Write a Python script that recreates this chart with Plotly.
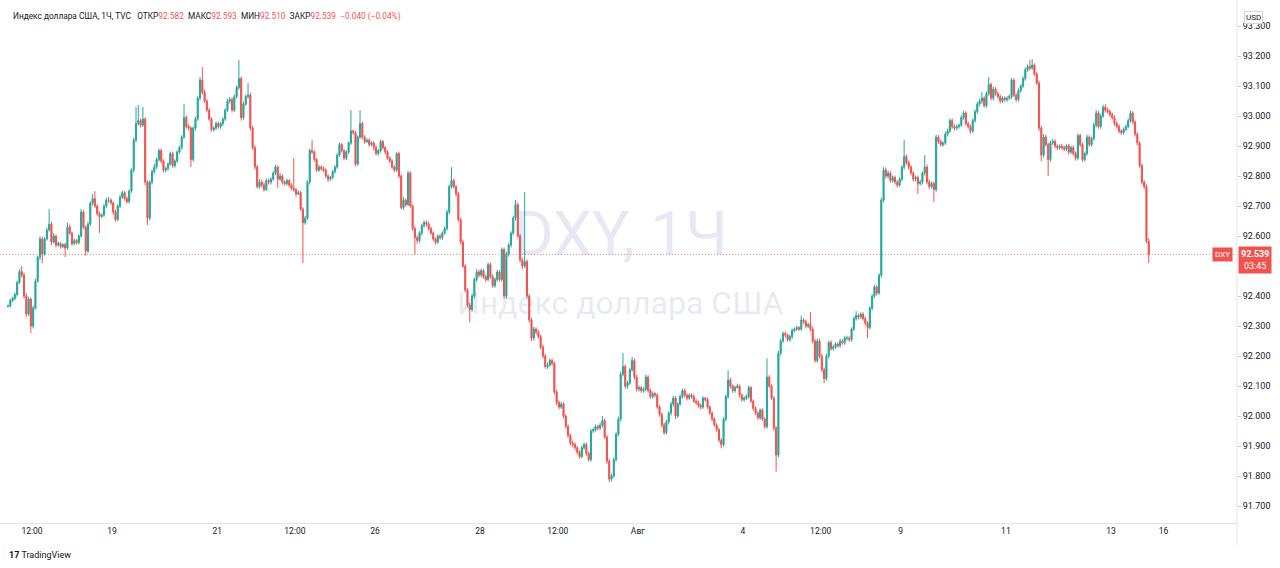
import plotly.graph_objects as go
import pandas as pd

# ---------------- data: DXY hourly candles (TVC), 15 Jul 2021 01:00 .. 13 Aug 2021 17:00 ----------------
opens = [
    92.366, 92.368, 92.385, 92.392, 92.405, 92.445, 92.482, 92.470, 92.400, 92.340, 92.390, 92.300, 92.360, 92.450, 92.530, 92.590, 92.540, 92.590, 92.620, 92.640, 92.580, 92.600, 92.570,
    92.575, 92.565, 92.572, 92.560, 92.630, 92.610, 92.575, 92.585, 92.578, 92.600, 92.680, 92.630, 92.550, 92.640, 92.710, 92.725, 92.700, 92.675, 92.665, 92.670, 92.700, 92.720, 92.720,
    92.710, 92.680, 92.655, 92.700, 92.730, 92.745, 92.725, 92.715, 92.750, 92.820, 92.920, 92.975, 92.985, 92.970, 92.990, 92.780, 92.660, 92.780, 92.815, 92.830, 92.855, 92.885, 92.850,
    92.820, 92.825, 92.840, 92.875, 92.835, 92.850, 92.880, 92.895, 92.930, 92.995, 92.965, 92.960, 92.855, 92.960, 92.990, 93.060, 93.120, 93.080, 93.050, 93.020, 92.990, 92.955, 92.960,
    92.975, 92.965, 92.975, 92.990, 93.020, 93.050, 93.055, 93.020, 93.065, 93.095, 93.125, 92.995, 93.040, 93.065, 93.070, 92.960, 92.895, 92.830, 92.765, 92.780, 92.770, 92.755, 92.785,
    92.780, 92.790, 92.810, 92.830, 92.790, 92.800, 92.780, 92.775, 92.785, 92.770, 92.760, 92.755, 92.740, 92.745, 92.690, 92.645, 92.660, 92.780, 92.885, 92.880, 92.855, 92.820, 92.830,
    92.825, 92.820, 92.800, 92.790, 92.795, 92.815, 92.830, 92.870, 92.905, 92.885, 92.860, 92.880, 92.910, 92.950, 92.945, 92.840, 92.930, 92.975, 92.930, 92.915, 92.920, 92.905, 92.910,
    92.895, 92.875, 92.885, 92.915, 92.895, 92.880, 92.860, 92.850, 92.830, 92.820, 92.875, 92.800, 92.695, 92.720, 92.705, 92.810, 92.700, 92.625, 92.595, 92.585, 92.610, 92.635, 92.645,
    92.640, 92.625, 92.610, 92.590, 92.580, 92.600, 92.595, 92.610, 92.625, 92.680, 92.765, 92.785, 92.765, 92.740, 92.655, 92.580, 92.500, 92.420, 92.370, 92.355, 92.400, 92.455, 92.480,
    92.470, 92.485, 92.465, 92.455, 92.505, 92.465, 92.435, 92.455, 92.480, 92.455, 92.555, 92.400, 92.540, 92.570, 92.610, 92.660, 92.705, 92.600, 92.520, 92.500, 92.515, 92.400, 92.320,
    92.260, 92.290, 92.280, 92.265, 92.230, 92.200, 92.165, 92.170, 92.185, 92.175, 92.080, 92.045, 92.030, 92.040, 92.000, 91.965, 91.935, 91.910, 91.905, 91.895, 91.880, 91.865, 91.895,
    91.905, 91.875, 91.855, 91.950, 91.955, 91.965, 91.960, 91.970, 91.985, 91.930, 91.850, 91.790, 91.800, 91.855, 91.940, 91.990, 92.140, 92.165, 92.100, 92.110, 92.155, 92.185, 92.130,
    92.090, 92.095, 92.085, 92.090, 92.130, 92.085, 92.065, 92.075, 92.070, 92.030, 92.005, 91.970, 91.945, 91.980, 92.010, 92.040, 92.060, 92.000, 92.040, 92.065, 92.085, 92.070, 92.060,
    92.070, 92.065, 92.050, 92.045, 92.035, 92.030, 92.060, 92.055, 92.030, 92.010, 91.990, 91.970, 91.955, 91.920, 91.905, 91.990, 92.065, 92.120, 92.100, 92.085, 92.095, 92.100, 92.070,
    92.055, 92.060, 92.065, 92.095, 92.050, 92.025, 92.010, 91.995, 92.020, 91.990, 91.965, 92.130, 92.100, 92.060, 91.960, 91.870, 92.210, 92.250, 92.275, 92.270, 92.255, 92.265, 92.285,
    92.290, 92.295, 92.290, 92.320, 92.315, 92.300, 92.305, 92.290, 92.250, 92.185, 92.250, 92.200, 92.155, 92.125, 92.200, 92.245, 92.225, 92.230, 92.240, 92.235, 92.250, 92.245, 92.260,
    92.260, 92.255, 92.290, 92.325, 92.335, 92.330, 92.340, 92.325, 92.310, 92.295, 92.360, 92.400, 92.430, 92.410, 92.470, 92.720, 92.820, 92.800, 92.810, 92.785, 92.795, 92.780, 92.770,
    92.790, 92.830, 92.865, 92.845, 92.830, 92.810, 92.790, 92.795, 92.775, 92.780, 92.810, 92.830, 92.780, 92.765, 92.775, 92.755, 92.930, 92.915, 92.905, 92.910, 92.940, 92.950, 92.985,
    92.965, 92.960, 92.965, 92.970, 92.995, 93.010, 92.975, 92.965, 92.950, 92.985, 93.015, 93.040, 93.050, 93.060, 93.035, 93.075, 93.105, 93.060, 93.090, 93.075, 93.065, 93.050, 93.060,
    93.055, 93.060, 93.065, 93.120, 93.070, 93.055, 93.085, 93.100, 93.125, 93.155, 93.165, 93.160, 93.170, 93.140, 93.110, 92.960, 92.870, 92.930, 92.905, 92.855, 92.910, 92.915, 92.900,
    92.895, 92.900, 92.895, 92.890, 92.900, 92.880, 92.895, 92.875, 92.860, 92.935, 92.905, 92.855, 92.875, 92.930, 92.905, 92.925, 92.970, 93.010, 92.965, 93.000, 93.030, 93.020, 93.015,
    93.005, 92.995, 92.975, 92.965, 92.950, 92.945, 92.955, 92.965, 92.985, 93.010, 92.980, 92.940, 92.910, 92.835, 92.780, 92.765, 92.582,
]
highs = [
    92.372, 92.392, 92.398, 92.412, 92.452, 92.490, 92.500, 92.478, 92.410, 92.398, 92.395, 92.368, 92.458, 92.535, 92.600, 92.598, 92.596, 92.628, 92.690, 92.648, 92.610, 92.605, 92.582,
    92.580, 92.576, 92.578, 92.645, 92.638, 92.615, 92.592, 92.590, 92.606, 92.690, 92.686, 92.636, 92.648, 92.716, 92.740, 92.750, 92.706, 92.682, 92.676, 92.706, 92.728, 92.730, 92.726,
    92.716, 92.688, 92.706, 92.738, 92.752, 92.750, 92.732, 92.756, 92.826, 92.928, 93.030, 93.037, 92.992, 93.030, 92.996, 92.786, 92.786, 92.822, 92.840, 92.862, 92.892, 92.892, 92.856,
    92.832, 92.846, 92.882, 92.880, 92.856, 92.886, 92.902, 92.936, 93.040, 93.002, 92.972, 92.966, 92.966, 92.998, 93.066, 93.130, 93.163, 93.088, 93.056, 93.026, 92.996, 92.966, 92.982,
    92.982, 92.980, 92.996, 93.026, 93.058, 93.064, 93.062, 93.072, 93.102, 93.187, 93.132, 93.048, 93.072, 93.110, 93.078, 92.968, 92.902, 92.838, 92.790, 92.788, 92.778, 92.792, 92.792,
    92.796, 92.816, 92.838, 92.836, 92.810, 92.806, 92.786, 92.792, 92.790, 92.776, 92.860, 92.760, 92.752, 92.750, 92.696, 92.668, 92.786, 92.892, 92.920, 92.886, 92.860, 92.838, 92.836,
    92.832, 92.826, 92.806, 92.800, 92.820, 92.836, 92.876, 92.912, 92.910, 92.890, 92.886, 92.916, 93.020, 92.956, 92.950, 92.936, 93.020, 92.982, 92.936, 92.926, 92.926, 92.916, 92.916,
    92.902, 92.890, 92.922, 92.920, 92.900, 92.886, 92.866, 92.856, 92.836, 92.880, 92.882, 92.806, 92.730, 92.726, 92.818, 92.816, 92.706, 92.632, 92.602, 92.616, 92.642, 92.652, 92.652,
    92.648, 92.632, 92.616, 92.596, 92.606, 92.606, 92.616, 92.632, 92.688, 92.772, 92.830, 92.792, 92.770, 92.748, 92.662, 92.588, 92.506, 92.426, 92.378, 92.408, 92.462, 92.490, 92.488,
    92.492, 92.490, 92.472, 92.512, 92.512, 92.472, 92.462, 92.488, 92.486, 92.562, 92.562, 92.548, 92.578, 92.616, 92.668, 92.720, 92.712, 92.608, 92.528, 92.747, 92.522, 92.408, 92.328,
    92.298, 92.296, 92.288, 92.272, 92.238, 92.208, 92.178, 92.192, 92.192, 92.182, 92.088, 92.052, 92.048, 92.046, 92.006, 91.972, 91.942, 91.918, 91.912, 91.900, 91.886, 91.902, 91.912,
    91.912, 91.882, 91.958, 91.962, 91.972, 91.972, 91.978, 92.000, 91.992, 91.936, 91.858, 91.808, 91.862, 91.946, 91.998, 92.148, 92.210, 92.172, 92.118, 92.162, 92.197, 92.192, 92.138,
    92.102, 92.100, 92.096, 92.138, 92.136, 92.092, 92.082, 92.080, 92.076, 92.036, 92.012, 91.978, 91.988, 92.016, 92.048, 92.068, 92.066, 92.046, 92.072, 92.092, 92.092, 92.076, 92.076,
    92.076, 92.072, 92.058, 92.052, 92.042, 92.066, 92.064, 92.062, 92.036, 92.016, 91.996, 91.976, 91.960, 91.926, 91.996, 92.072, 92.153, 92.128, 92.106, 92.102, 92.108, 92.106, 92.076,
    92.066, 92.072, 92.102, 92.100, 92.056, 92.032, 92.016, 92.026, 92.026, 91.996, 92.193, 92.136, 92.106, 92.066, 91.966, 92.218, 92.258, 92.282, 92.282, 92.276, 92.272, 92.292, 92.296,
    92.302, 92.300, 92.335, 92.326, 92.322, 92.312, 92.347, 92.298, 92.258, 92.258, 92.258, 92.208, 92.162, 92.208, 92.252, 92.252, 92.238, 92.246, 92.246, 92.258, 92.256, 92.268, 92.268,
    92.266, 92.296, 92.332, 92.350, 92.342, 92.346, 92.346, 92.332, 92.316, 92.366, 92.406, 92.438, 92.436, 92.476, 92.728, 92.830, 92.828, 92.818, 92.816, 92.802, 92.802, 92.786, 92.796,
    92.836, 92.920, 92.872, 92.852, 92.836, 92.816, 92.802, 92.802, 92.788, 92.816, 92.870, 92.838, 92.788, 92.782, 92.782, 92.938, 92.936, 92.922, 92.916, 92.948, 92.958, 92.992, 92.992,
    92.972, 92.972, 92.976, 93.002, 93.018, 93.016, 92.982, 92.972, 92.992, 93.022, 93.048, 93.058, 93.080, 93.066, 93.082, 93.130, 93.112, 93.098, 93.096, 93.082, 93.072, 93.066, 93.066,
    93.066, 93.072, 93.128, 93.126, 93.076, 93.092, 93.106, 93.132, 93.162, 93.172, 93.187, 93.190, 93.176, 93.146, 93.118, 92.968, 92.940, 92.938, 92.912, 92.918, 92.924, 92.922, 92.906,
    92.906, 92.908, 92.902, 92.906, 92.908, 92.902, 92.902, 92.882, 92.942, 92.942, 92.912, 92.882, 92.938, 92.936, 92.932, 92.978, 93.020, 93.018, 93.008, 93.038, 93.040, 93.028, 93.022,
    93.012, 93.002, 92.982, 92.972, 92.956, 92.962, 92.972, 92.992, 93.018, 93.016, 92.986, 92.946, 92.916, 92.842, 92.786, 92.772, 92.593,
]
lows = [
    92.362, 92.362, 92.380, 92.386, 92.398, 92.440, 92.462, 92.392, 92.330, 92.334, 92.277, 92.292, 92.355, 92.445, 92.520, 92.510, 92.535, 92.585, 92.615, 92.570, 92.575, 92.562, 92.565,
    92.558, 92.560, 92.530, 92.555, 92.604, 92.568, 92.570, 92.572, 92.572, 92.594, 92.624, 92.535, 92.544, 92.634, 92.702, 92.694, 92.668, 92.610, 92.660, 92.664, 92.694, 92.712, 92.704,
    92.672, 92.648, 92.650, 92.694, 92.724, 92.718, 92.708, 92.708, 92.744, 92.812, 92.912, 92.968, 92.962, 92.964, 92.770, 92.637, 92.652, 92.772, 92.808, 92.824, 92.848, 92.842, 92.812,
    92.812, 92.818, 92.834, 92.828, 92.828, 92.844, 92.874, 92.888, 92.924, 92.958, 92.952, 92.830, 92.848, 92.952, 92.984, 93.052, 93.072, 93.044, 93.012, 92.984, 92.948, 92.948, 92.954,
    92.958, 92.958, 92.968, 92.984, 93.014, 93.042, 93.012, 93.014, 93.058, 93.088, 92.985, 92.988, 93.034, 93.058, 92.952, 92.888, 92.822, 92.758, 92.758, 92.762, 92.748, 92.750, 92.772,
    92.772, 92.784, 92.804, 92.760, 92.784, 92.772, 92.768, 92.768, 92.762, 92.752, 92.748, 92.732, 92.736, 92.684, 92.510, 92.638, 92.654, 92.772, 92.874, 92.848, 92.814, 92.814, 92.818,
    92.814, 92.794, 92.780, 92.784, 92.790, 92.808, 92.824, 92.864, 92.878, 92.852, 92.854, 92.874, 92.904, 92.938, 92.832, 92.834, 92.924, 92.922, 92.908, 92.910, 92.898, 92.900, 92.886,
    92.868, 92.868, 92.878, 92.888, 92.872, 92.854, 92.844, 92.824, 92.812, 92.814, 92.792, 92.688, 92.688, 92.698, 92.700, 92.694, 92.618, 92.540, 92.575, 92.578, 92.602, 92.628, 92.632,
    92.618, 92.604, 92.584, 92.572, 92.574, 92.588, 92.588, 92.604, 92.618, 92.672, 92.758, 92.758, 92.732, 92.648, 92.572, 92.494, 92.412, 92.362, 92.313, 92.348, 92.392, 92.448, 92.462,
    92.462, 92.458, 92.448, 92.450, 92.458, 92.428, 92.428, 92.448, 92.448, 92.448, 92.392, 92.392, 92.532, 92.562, 92.602, 92.652, 92.594, 92.512, 92.490, 92.494, 92.392, 92.312, 92.250,
    92.252, 92.272, 92.258, 92.222, 92.192, 92.158, 92.158, 92.164, 92.168, 92.072, 92.036, 92.022, 92.024, 91.992, 91.958, 91.928, 91.902, 91.896, 91.886, 91.872, 91.858, 91.860, 91.888,
    91.868, 91.848, 91.848, 91.944, 91.948, 91.952, 91.954, 91.962, 91.924, 91.842, 91.780, 91.782, 91.794, 91.848, 91.932, 91.982, 92.132, 92.092, 92.092, 92.104, 92.148, 92.122, 92.082,
    92.082, 92.078, 92.078, 92.082, 92.078, 92.058, 92.058, 92.062, 92.024, 91.998, 91.962, 91.938, 91.938, 91.972, 92.002, 92.032, 91.990, 91.994, 92.034, 92.058, 92.062, 92.052, 92.054,
    92.058, 92.044, 92.038, 92.028, 92.022, 92.024, 92.048, 92.024, 92.004, 91.982, 91.964, 91.948, 91.912, 91.893, 91.898, 91.982, 92.058, 92.092, 92.078, 92.078, 92.092, 92.062, 92.048,
    92.048, 92.054, 92.058, 92.044, 92.018, 92.004, 91.988, 91.988, 91.984, 91.958, 91.958, 92.094, 92.054, 91.952, 91.815, 91.862, 92.202, 92.244, 92.262, 92.248, 92.248, 92.258, 92.280,
    92.284, 92.284, 92.284, 92.308, 92.292, 92.294, 92.282, 92.242, 92.178, 92.178, 92.192, 92.148, 92.110, 92.118, 92.192, 92.218, 92.218, 92.224, 92.228, 92.228, 92.238, 92.238, 92.252,
    92.248, 92.248, 92.284, 92.318, 92.322, 92.324, 92.318, 92.302, 92.260, 92.288, 92.352, 92.394, 92.402, 92.404, 92.462, 92.712, 92.792, 92.792, 92.778, 92.778, 92.772, 92.762, 92.764,
    92.782, 92.822, 92.838, 92.822, 92.802, 92.782, 92.782, 92.740, 92.768, 92.772, 92.802, 92.772, 92.756, 92.758, 92.713, 92.748, 92.908, 92.898, 92.898, 92.904, 92.932, 92.944, 92.958,
    92.952, 92.952, 92.958, 92.964, 92.988, 92.968, 92.958, 92.942, 92.944, 92.978, 93.008, 93.032, 93.042, 93.028, 93.028, 93.068, 93.052, 93.052, 93.068, 93.058, 93.042, 93.044, 93.048,
    93.048, 93.054, 93.058, 93.064, 93.048, 93.048, 93.078, 93.094, 93.118, 93.148, 93.152, 93.154, 93.134, 93.104, 92.950, 92.850, 92.862, 92.898, 92.800, 92.848, 92.904, 92.892, 92.886,
    92.888, 92.888, 92.882, 92.884, 92.872, 92.874, 92.868, 92.852, 92.852, 92.898, 92.848, 92.848, 92.868, 92.898, 92.898, 92.918, 92.962, 92.958, 92.958, 92.994, 93.012, 93.008, 92.998,
    92.988, 92.968, 92.958, 92.942, 92.938, 92.938, 92.950, 92.960, 92.978, 92.972, 92.932, 92.902, 92.828, 92.772, 92.756, 92.576, 92.510,
]
closes = [
    92.368, 92.385, 92.392, 92.405, 92.445, 92.482, 92.470, 92.400, 92.340, 92.390, 92.300, 92.360, 92.450, 92.530, 92.590, 92.540, 92.590, 92.620, 92.640, 92.580, 92.600, 92.570, 92.575,
    92.565, 92.572, 92.560, 92.630, 92.610, 92.575, 92.585, 92.578, 92.600, 92.680, 92.630, 92.550, 92.640, 92.710, 92.725, 92.700, 92.675, 92.665, 92.670, 92.700, 92.720, 92.720, 92.710,
    92.680, 92.655, 92.700, 92.730, 92.745, 92.725, 92.715, 92.750, 92.820, 92.920, 92.975, 92.985, 92.970, 92.990, 92.780, 92.660, 92.780, 92.815, 92.830, 92.855, 92.885, 92.850, 92.820,
    92.825, 92.840, 92.875, 92.835, 92.850, 92.880, 92.895, 92.930, 92.995, 92.965, 92.960, 92.855, 92.960, 92.990, 93.060, 93.120, 93.080, 93.050, 93.020, 92.990, 92.955, 92.960, 92.975,
    92.965, 92.975, 92.990, 93.020, 93.050, 93.055, 93.020, 93.065, 93.095, 93.125, 92.995, 93.040, 93.065, 93.070, 92.960, 92.895, 92.830, 92.765, 92.780, 92.770, 92.755, 92.785, 92.780,
    92.790, 92.810, 92.830, 92.790, 92.800, 92.780, 92.775, 92.785, 92.770, 92.760, 92.755, 92.740, 92.745, 92.690, 92.645, 92.660, 92.780, 92.885, 92.880, 92.855, 92.820, 92.830, 92.825,
    92.820, 92.800, 92.790, 92.795, 92.815, 92.830, 92.870, 92.905, 92.885, 92.860, 92.880, 92.910, 92.950, 92.945, 92.840, 92.930, 92.975, 92.930, 92.915, 92.920, 92.905, 92.910, 92.895,
    92.875, 92.885, 92.915, 92.895, 92.880, 92.860, 92.850, 92.830, 92.820, 92.875, 92.800, 92.695, 92.720, 92.705, 92.810, 92.700, 92.625, 92.595, 92.585, 92.610, 92.635, 92.645, 92.640,
    92.625, 92.610, 92.590, 92.580, 92.600, 92.595, 92.610, 92.625, 92.680, 92.765, 92.785, 92.765, 92.740, 92.655, 92.580, 92.500, 92.420, 92.370, 92.355, 92.400, 92.455, 92.480, 92.470,
    92.485, 92.465, 92.455, 92.505, 92.465, 92.435, 92.455, 92.480, 92.455, 92.555, 92.400, 92.540, 92.570, 92.610, 92.660, 92.705, 92.600, 92.520, 92.500, 92.515, 92.400, 92.320, 92.260,
    92.290, 92.280, 92.265, 92.230, 92.200, 92.165, 92.170, 92.185, 92.175, 92.080, 92.045, 92.030, 92.040, 92.000, 91.965, 91.935, 91.910, 91.905, 91.895, 91.880, 91.865, 91.895, 91.905,
    91.875, 91.855, 91.950, 91.955, 91.965, 91.960, 91.970, 91.985, 91.930, 91.850, 91.790, 91.800, 91.855, 91.940, 91.990, 92.140, 92.165, 92.100, 92.110, 92.155, 92.185, 92.130, 92.090,
    92.095, 92.085, 92.090, 92.130, 92.085, 92.065, 92.075, 92.070, 92.030, 92.005, 91.970, 91.945, 91.980, 92.010, 92.040, 92.060, 92.000, 92.040, 92.065, 92.085, 92.070, 92.060, 92.070,
    92.065, 92.050, 92.045, 92.035, 92.030, 92.060, 92.055, 92.030, 92.010, 91.990, 91.970, 91.955, 91.920, 91.905, 91.990, 92.065, 92.120, 92.100, 92.085, 92.095, 92.100, 92.070, 92.055,
    92.060, 92.065, 92.095, 92.050, 92.025, 92.010, 91.995, 92.020, 91.990, 91.965, 92.130, 92.100, 92.060, 91.960, 91.870, 92.210, 92.250, 92.275, 92.270, 92.255, 92.265, 92.285, 92.290,
    92.295, 92.290, 92.320, 92.315, 92.300, 92.305, 92.290, 92.250, 92.185, 92.250, 92.200, 92.155, 92.125, 92.200, 92.245, 92.225, 92.230, 92.240, 92.235, 92.250, 92.245, 92.260, 92.260,
    92.255, 92.290, 92.325, 92.335, 92.330, 92.340, 92.325, 92.310, 92.295, 92.360, 92.400, 92.430, 92.410, 92.470, 92.720, 92.820, 92.800, 92.810, 92.785, 92.795, 92.780, 92.770, 92.790,
    92.830, 92.865, 92.845, 92.830, 92.810, 92.790, 92.795, 92.775, 92.780, 92.810, 92.830, 92.780, 92.765, 92.775, 92.755, 92.930, 92.915, 92.905, 92.910, 92.940, 92.950, 92.985, 92.965,
    92.960, 92.965, 92.970, 92.995, 93.010, 92.975, 92.965, 92.950, 92.985, 93.015, 93.040, 93.050, 93.060, 93.035, 93.075, 93.105, 93.060, 93.090, 93.075, 93.065, 93.050, 93.060, 93.055,
    93.060, 93.065, 93.120, 93.070, 93.055, 93.085, 93.100, 93.125, 93.155, 93.165, 93.160, 93.170, 93.140, 93.110, 92.960, 92.870, 92.930, 92.905, 92.855, 92.910, 92.915, 92.900, 92.895,
    92.900, 92.895, 92.890, 92.900, 92.880, 92.895, 92.875, 92.860, 92.935, 92.905, 92.855, 92.875, 92.930, 92.905, 92.925, 92.970, 93.010, 92.965, 93.000, 93.030, 93.020, 93.015, 93.005,
    92.995, 92.975, 92.965, 92.950, 92.945, 92.955, 92.965, 92.985, 93.010, 92.980, 92.940, 92.910, 92.835, 92.780, 92.765, 92.582, 92.539,
]

# time-axis labels (TradingView style) and the bar time they belong to
tick_times = ["2021-07-15 12:00", "2021-07-19 01:00", "2021-07-21 01:00", "2021-07-22 12:00",
              "2021-07-26 01:00", "2021-07-28 01:00", "2021-07-29 12:00", "2021-08-02 01:00",
              "2021-08-04 01:00", "2021-08-05 12:00", "2021-08-09 01:00", "2021-08-11 01:00",
              "2021-08-13 01:00", "2021-08-16 01:00"]
tick_labels = ["12:00", "19", "21", "12:00", "26", "28", "12:00", "Авг", "4", "12:00", "9", "11", "13", "16"]
# 92.500 is hidden behind the last-price badge in the reference
price_ticks = [91.7, 91.8, 91.9, 92.0, 92.1, 92.2, 92.3, 92.4, 92.6, 92.7, 92.8, 92.9, 93.0, 93.1, 93.2, 93.3]

last_open, last_high, last_low, last_close = opens[-1], highs[-1], lows[-1], closes[-1]
change = -0.040
change_pct = -0.04

# ---------------- trading-hour calendar (weekends skipped, 23 hourly bars per day) ----------------
days = pd.bdate_range("2021-07-15", "2021-08-17")
calendar = [d + pd.Timedelta(hours=h) for d in days for h in range(1, 24)]
bar_index = {t: i for i, t in enumerate(calendar)}
x = list(range(len(closes)))
tickvals = [bar_index[pd.Timestamp(t)] - 0.5 for t in tick_times]

UP = "#26a69a"
DOWN = "#ef5350"
TXT = "#131722"
FONT = "Roboto, Open Sans, sans-serif"

fig = go.Figure()
fig.add_trace(go.Candlestick(
    x=x, open=opens, high=highs, low=lows, close=closes,
    increasing=dict(line=dict(color=UP, width=1), fillcolor=UP),
    decreasing=dict(line=dict(color=DOWN, width=1), fillcolor=DOWN),
    whiskerwidth=0, showlegend=False, name="DXY",
))

# last price dotted line
fig.add_shape(type="line", xref="paper", x0=0, x1=1, yref="y", y0=last_close, y1=last_close,
              line=dict(color="rgba(239,83,80,0.75)", width=1, dash="1px,2px"), layer="below")
# right separator line extending into time scale
fig.add_shape(type="line", xref="paper", x0=1, x1=1, yref="paper", y0=-0.042, y1=1,
              line=dict(color="#e0e3eb", width=1))

def red(v):
    return f"<span style='color:{DOWN}'>{v}</span>"

nb = "\u00a0"
header = ("Индекс доллара США, 1Ч, TVC" + nb * 3 +
          "ОТКР" + red(f"{last_open:.3f}") + nb * 2 +
          "МАКС" + red(f"{last_high:.3f}") + nb * 2 +
          "МИН" + red(f"{last_low:.3f}") + nb * 2 +
          "ЗАКР" + red(f"{last_close:.3f}") + nb * 2 +
          red(f"\u2212{abs(change):.3f} (\u2212{abs(change_pct):.2f}%)"))

annotations = [
    dict(text=header, xref="paper", yref="paper", x=0, y=1, xanchor="left", yanchor="middle",
         xshift=11, yshift=-16, showarrow=False, font=dict(family=FONT, size=8.3, color=TXT)),
    # watermark
    dict(text="DXY, 1Ч", xref="paper", yref="paper", x=0.502, y=1, xanchor="center", yanchor="middle",
         yshift=-233, showarrow=False, font=dict(family=FONT, size=62, color="rgba(110,118,190,0.17)")),
    dict(text="Индекс доллара США", xref="paper", yref="paper", x=0.502, y=1, xanchor="center",
         yanchor="middle", yshift=-303, showarrow=False,
         font=dict(family=FONT, size=32, color="rgba(110,118,190,0.17)")),
    # last price label on the price scale
    dict(text=f"<b>{last_close:.3f}</b><br>03:45", xref="paper", yref="y", x=1, y=last_close,
         xanchor="left", yanchor="top", yshift=8, xshift=1, showarrow=False, align="center",
         bgcolor=DOWN, borderpad=2, font=dict(family=FONT, size=9, color="white")),
    dict(text="DXY", xref="paper", yref="y", x=1, y=last_close, xanchor="right", yanchor="middle",
         xshift=-4, showarrow=False, bgcolor=DOWN, borderpad=2,
         font=dict(family=FONT, size=8, color="white")),
    # currency badge
    dict(text="USD", xref="paper", yref="paper", x=1, y=1, xanchor="left", yanchor="top",
         xshift=7, yshift=-11, showarrow=False, bgcolor="white", bordercolor="#d1d4dc",
         borderwidth=1, borderpad=1, font=dict(family=FONT, size=8, color=TXT)),
    # TradingView logo text
    dict(text="<b>17</b> TradingView", xref="paper", yref="paper", x=0, y=0, xanchor="left",
         yanchor="middle", xshift=7, yshift=-32, showarrow=False,
         font=dict(family=FONT, size=9, color=TXT)),
]

fig.update_layout(
    width=1280, height=568,
    margin=dict(l=0, r=43, t=0, b=45),
    paper_bgcolor="white", plot_bgcolor="white",
    font=dict(family=FONT, size=10, color=TXT),
    showlegend=False,
    hovermode=False,
    annotations=annotations,
    xaxis=dict(
        range=[-3.5, 537.6], rangeslider=dict(visible=False),
        tickmode="array", tickvals=tickvals, ticktext=tick_labels,
        showgrid=False, zeroline=False, showline=True, linecolor="#e0e3eb", linewidth=1,
        ticks="", tickfont=dict(family=FONT, size=8.5, color=TXT),
    ),
    yaxis=dict(
        side="right", range=[91.6437, 93.387],
        tickmode="array", tickvals=price_ticks, ticktext=[f"{v:.3f}" for v in price_ticks],
        showgrid=False, zeroline=False, showline=False,
        ticks="outside", ticklen=3, tickcolor="#c8cbd3",
        tickfont=dict(family=FONT, size=9, color=TXT),
    ),
)

fig.write_html("out.html", config={"displayModeBar": False},
               post_script="document.body.style.margin='0';document.body.style.padding='0';")
